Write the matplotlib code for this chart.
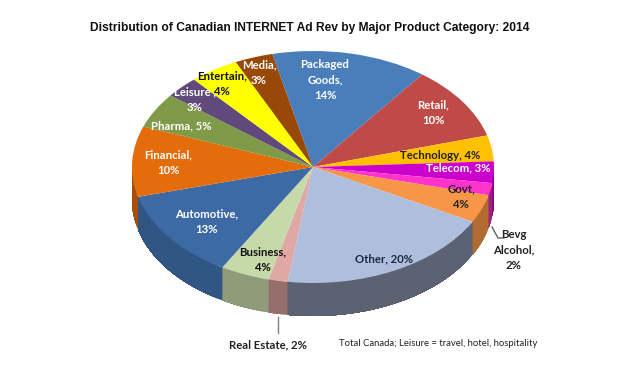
import numpy as np
import matplotlib
matplotlib.use("Agg")
import matplotlib.pyplot as plt

categories = ["Packaged Goods", "Retail", "Technology", "Telecom", "Bevg Alcohol", "Govt", "Other",
              "Real Estate", "Business", "Automotive", "Financial", "Pharma", "Leisure", "Entertain", "Media"]
# shares (labels carry the rounded figures)
shares = [13.9, 10.3, 3.6, 3.0, 1.7, 3.9, 19.4, 1.7, 4.4, 12.5, 9.8, 4.9, 3.0, 4.4, 3.4]
wedge_colors = ["#4A7EBB", "#BE4B48", "#FFC000", "#CC00CC", "#FF33CC", "#F79646", "#AFBEDD",
                "#E0A8A4", "#C6D9A8", "#3D6AA5", "#E46C0A", "#7F9A48", "#604A7B", "#FFFF00", "#984807"]
side_shade = [0.7, 0.7, 0.7, 0.7, 0.62, 0.72, 0.52, 0.66, 0.72, 0.8, 0.72, 0.7, 0.7, 0.7, 0.7]
labels = ["Packaged\nGoods,\n14%", "Retail,\n10%", "Technology, 4%", "Telecom, 3%", "Bevg\nAlcohol,\n2%",
          "Govt,\n4%", "Other, 20%", "Real Estate, 2%", "Business,\n4%", "Automotive,\n13%",
          "Financial,\n10%", "Pharma, 5%", "Leisure ,\n3%", "Entertain,\n4%", "Media,\n3%"]
label_colors = ["white", "white", "#222222", "white", "#222222", "#222222", "#1F2A44", "#222222", "#111111",
                "white", "white", "white", "white", "#111111", "white"]
label_px = [(325, 80), (433, 113), (440, 155), (458, 168), (514, 250), (461, 197), (384, 259), (268, 345),
            (263, 260), (207, 222), (168, 163), (181, 126), (195, 100), (222, 84), (259, 73)]
title = "Distribution of Canadian INTERNET Ad Rev by Major Product Category: 2014"
note = "Total Canada; Leisure = travel, hotel, hospitality"

W, H = 622, 380
cx, cy, rx, ry, depth = 313, 167, 181, 116, 33
start = 103

fig = plt.figure(figsize=(W / 100, H / 100), dpi=100, facecolor="white")
ax = fig.add_axes([0, 0, 1, 1])


def darker(color, f):
    return tuple(np.array(matplotlib.colors.to_rgb(color)) * f)


# side wall, shaded band by band within each wedge
dz = depth / ry
edges = start - np.cumsum([0] + shares) / sum(shares) * 360
for a0, a1, c, shade in zip(edges[:-1], edges[1:], wedge_colors, side_shade):
    th = np.linspace(a0, a1, max(int(abs(a1 - a0)) + 1, 2))
    n = len(th) - 1
    # paint from the far end backwards, each band reaching to the wedge's far edge so no seams show
    for i in range(n - 1, -1, -1):
        t = np.linspace(th[i], a1, n - i + 1)
        keep = np.sin(np.radians(t)) <= 0.03
        if keep.sum() < 2:
            continue
        t = t[keep]
        xs = np.r_[np.cos(np.radians(t)), np.cos(np.radians(t[::-1]))]
        ys = np.r_[np.sin(np.radians(t)), np.sin(np.radians(t[::-1])) - dz]
        f = shade * (1 - 0.25 * i / max(n - 1, 1))
        ax.fill(xs, ys, color=darker(c, f), lw=0)

ax.pie(shares, colors=wedge_colors, startangle=start, counterclock=False, radius=1,
       wedgeprops=dict(lw=0))

ax.set_aspect("auto")
ax.set_xlim(-cx / rx, (W - cx) / rx)
ax.set_ylim((cy - H) / ry, cy / ry)
ax.axis("off")

T = ax.transAxes


def px(x, y):
    return x / W, 1 - y / H


for text, color, (x, y) in zip(labels, label_colors, label_px):
    ax.text(*px(x, y), text, transform=T, color=color, ha="center", va="center",
            fontsize=8.2, fontweight="bold", family="Lato", linespacing=1.5, zorder=5)

ax.plot(*zip(px(278, 317), px(278, 333)), transform=T, color="#808080", lw=1, zorder=4)
ax.plot(*zip(px(492, 227), px(498, 238), px(504, 238)), transform=T, color="#555555", lw=0.9, zorder=4)

ax.text(*px(309.5, 28), title, transform=T, ha="center", va="center", fontsize=8.65,
        fontweight="bold", family="Liberation Sans", color="#111111")
ax.text(*px(438.5, 343), note, transform=T, ha="center", va="center", fontsize=6.8,
        family="Lato", color="#222222")

fig.savefig("out.png", dpi=100, facecolor="white")
